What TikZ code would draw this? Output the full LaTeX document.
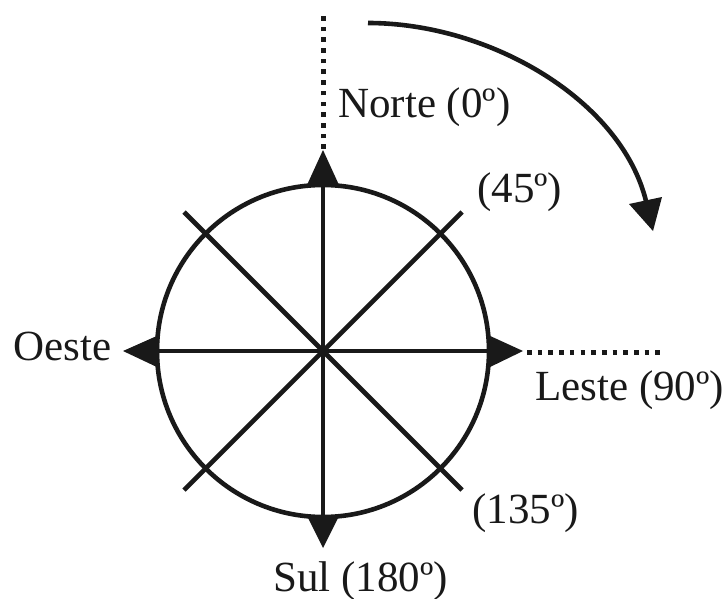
\documentclass[tikz,border=0pt]{standalone}
\usepackage{fontspec}
\setmainfont{Liberation Serif}
\begin{document}
\begin{tikzpicture}[x=1pt,y=-1pt,
  stroke/.style={draw=black!90, line width=4.6pt},
  lbl/.style={anchor=base west, inner sep=0pt, text=black!90, font=\fontsize{43}{50}\selectfont},
  tri/.style={fill=black!90, draw=none},
  dotline/.style={draw=black!90, line width=5pt, dash pattern=on 4.6pt off 6.1pt}]
\useasboundingbox (0,0) rectangle (723,599);
\coordinate (C) at (323,351);
% circle and spokes
\draw[stroke] (C) circle[radius=166pt];
\coordinate (N) at (323,185);
\coordinate (S) at (323,517);
\coordinate (W) at (157,351);
\coordinate (E) at (489,351);
\draw[stroke] (N) -- (S);
\draw[stroke] (W) -- (E);
\coordinate (NE) at (462,212);
\coordinate (SW) at (184,490);
\coordinate (NW) at (184,212);
\coordinate (SE) at (462,490);
\draw[stroke] (NE) -- (SW);
\draw[stroke] (NW) -- (SE);
% arrowheads
\fill[tri] (323,150) -- (339,185) -- (307,185) -- cycle;
\fill[tri] (323,548) -- (339,516) -- (307,516) -- cycle;
\fill[tri] (123,351) -- (159,335) -- (159,368) -- cycle;
\fill[tri] (523,351) -- (488,335) -- (488,368) -- cycle;
% dotted extensions
\coordinate (Ntop) at (323,12);
\coordinate (Nbot) at (323,149);
\draw[dotline] (Nbot) -- (Ntop);
\coordinate (Eleft) at (527,352);
\coordinate (Eright) at (664,352);
\draw[dotline] (Eleft) -- (Eright);
% rotation arrow
\coordinate (A0) at (368,23);
\coordinate (A1) at (646,201);
\draw[stroke, line cap=butt] (A0) .. controls (490,23) and (621,100) .. (A1);
\fill[tri] (653,231) -- (629,204) -- (662,197) -- cycle;
% labels
\node[lbl] (norte) at (338,118) {Norte (0º)};
\node[lbl] (n45) at (477,202) {(45º)};
\node[lbl] (oeste) at (13,360) {Oeste};
\node[lbl] (leste) at (535,400) {Leste (90º)};
\node[lbl] (n135) at (472,523) {(135º)};
\node[lbl] (sul) at (273,591) {Sul (180º)};
\end{tikzpicture}
\end{document}
